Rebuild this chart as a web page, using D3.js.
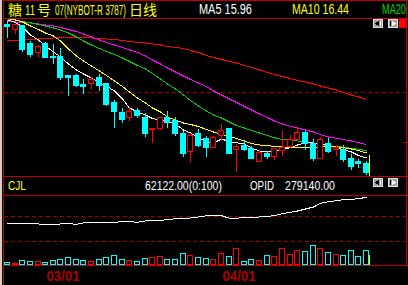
<!DOCTYPE html>
<html><head><meta charset="utf-8">
<script src="https://cdn.jsdelivr.net/npm/d3@7"></script>
<style>
html,body{margin:0;padding:0;background:#000;overflow:hidden}
svg{display:block}
</style></head><body>
<svg id="c" width="408" height="285"></svg>
<script>
// ---------- data ----------
const titleParts = ["糖", "11", "号", "07(NYBOT-R 3787)", "日线"];
const maLabels = ["MA5 15.96", "MA10 16.44", "MA20"];
const volLabels = ["CJL", "62122.00(0:100)", "OPID", "279140.00"];
const dateLabels = ["03/01", "04/01"];
const dateIndex = [7, 30];

const opens  = [17.233,17.175,17.22,17.035,16.953,17.035,16.915,16.91,16.72,16.72,16.63,16.637,16.705,16.635,16.45,16.353,16.295,16.37,16.303,16.177,16.187,16.295,16.27,16.143,15.963,16.14,16.087,16.003,16.12,16.193,15.977,16.025,15.987,15.86,15.943,15.913,15.97,16.013,16.08,16.153,16.037,15.893,16.043,15.977,15.977,15.887,15.863,15.843];
const highs  = [17.265,17.225,17.22,17.06,17.015,17.05,17.03,16.99,16.72,16.735,16.68,16.705,16.725,16.64,16.47,16.387,16.403,16.395,16.335,16.195,16.30,16.36,16.30,16.16,16.135,16.175,16.11,16.11,16.235,16.195,16.03,16.06,16.01,15.975,15.96,15.99,16.163,16.12,16.187,16.16,16.08,16.103,16.093,16.015,16.02,15.93,15.88,15.86];
const lows   = [17.097,17.135,16.96,16.91,16.905,16.90,16.835,16.68,16.52,16.61,16.54,16.595,16.57,16.42,16.205,16.253,16.27,16.30,16.11,16.053,16.185,16.20,16.12,15.913,15.863,16.01,15.91,16.00,16.07,15.94,15.763,15.97,15.89,15.86,15.887,15.88,15.92,15.997,16.08,15.98,15.87,15.89,15.95,15.92,15.863,15.78,15.803,15.73];
const closes = [17.213,17.225,16.985,16.935,17.013,16.903,16.90,16.705,16.703,16.62,16.605,16.68,16.62,16.435,16.355,16.285,16.36,16.32,16.14,16.193,16.297,16.25,16.137,15.937,16.117,16.02,16.003,16.103,16.17,15.943,16.01,15.98,15.893,15.953,15.913,15.987,16.003,16.077,16.147,16.04,15.887,16.077,15.96,16.005,15.877,15.813,15.837,15.753];

const ma5  = [17.27,17.245,17.20,17.12,17.07,17.01,16.95,16.90,16.83,16.77,16.73,16.69,16.64,16.61,16.56,16.48,16.39,16.35,16.32,16.285,16.27,16.255,16.23,16.17,16.14,16.09,16.053,16.04,16.08,16.053,16.043,16.03,15.99,15.96,15.953,15.96,15.973,15.995,16.02,16.045,16.04,16.037,16.015,15.99,15.973,15.95,15.915,15.89];
const ma10 = [17.285,17.27,17.25,17.21,17.175,17.14,17.11,17.06,16.98,16.91,16.86,16.81,16.76,16.715,16.66,16.605,16.55,16.49,16.44,16.39,16.35,16.30,16.27,16.24,16.225,16.205,16.175,16.15,16.125,16.11,16.085,16.06,16.035,16.02,16.015,16.005,16.00,15.997,15.997,16.00,15.997,16.00,16.002,16.00,15.992,15.98,15.965,15.94];
const ma20 = [17.28,17.27,17.255,17.242,17.225,17.21,17.19,17.17,17.14,17.10,17.06,17.02,16.985,16.955,16.925,16.89,16.855,16.815,16.78,16.735,16.68,16.63,16.58,16.52,16.465,16.41,16.36,16.32,16.29,16.25,16.215,16.19,16.165,16.14,16.115,16.092,16.075,16.065,16.06,16.053,16.04,16.025,16.012,16.005,15.998,15.987,15.978,15.963];
const ma30 = [17.255,17.25,17.245,17.24,17.23,17.22,17.21,17.195,17.175,17.155,17.13,17.10,17.07,17.045,17.02,16.995,16.97,16.945,16.91,16.87,16.83,16.79,16.75,16.71,16.675,16.64,16.605,16.56,16.52,16.48,16.445,16.405,16.37,16.33,16.295,16.26,16.23,16.205,16.19,16.17,16.15,16.125,16.10,16.087,16.075,16.06,16.043,16.025];
const ma60 = [17.06,17.065,17.07,17.075,17.08,17.085,17.09,17.093,17.095,17.095,17.095,17.09,17.085,17.08,17.075,17.065,17.055,17.045,17.04,17.03,17.02,17.005,16.995,16.985,16.965,16.945,16.915,16.895,16.875,16.855,16.84,16.815,16.795,16.77,16.745,16.725,16.705,16.685,16.665,16.65,16.63,16.61,16.59,16.57,16.545,16.52,16.50,16.475];

const volumes = [12250,7000,20400,16300,16300,12250,20400,24500,31400,24500,20400,16300,24500,31400,39600,24500,20400,16300,27300,31400,36700,24500,24500,47800,39600,31400,27300,23300,47800,36700,68200,16300,23300,20400,39600,36700,68200,44900,61200,57100,80400,68200,53100,44900,39600,61200,36700,62122];
const opid = [247100,247940,247940,247940,247100,246740,246740,247100,247460,246740,248300,249140,249140,249140,249140,249860,249860,249140,250700,251540,251540,252260,253460,253460,254300,255500,257060,257060,257060,253940,253940,255140,255140,255500,256340,257060,259460,261140,262700,265100,267500,271940,273860,275060,276260,276740,277460,279140];

const priceGrid = [16.55];
const volGrid = [100000, 200000];

// ---------- drawing ----------
const svg = d3.select("#c");
const FONT = "'Liberation Sans', Arial, sans-serif";
const CJK = "'Noto Sans CJK SC', sans-serif";
const FRAME = "#c00000", DASH = "#a00000";
const UP = "#ff0000", DOWN = "#00ffff";

svg.append("rect").attr("width",408).attr("height",285).attr("fill","#000");

const n = closes.length;
const x = d3.scaleBand().domain(d3.range(n)).range([4, 369.1]).paddingInner(0.215);
const y = d3.scaleLinear().domain([15.71, 17.29]).range([176, 18]);
const yv = d3.scaleLinear().domain([0, 100000]).range([265, 240.5]);
const yo = d3.scaleLinear().domain([240000, 280000]).range([229.9, 196.6]);
const L = i => Math.round(x(i));
const W = Math.round(x.bandwidth());
const CX = i => L(i) + 3.5;

// frame
const g = svg.append("g").attr("shape-rendering","crispEdges");
g.append("rect").attr("x",0).attr("y",0).attr("width",2).attr("height",285).attr("fill","#d4d0c8");
[[3,0.5,408,0.5],[3,18.5,408,18.5],[3,176.5,408,176.5],[3,195.5,408,195.5],[3,265.5,408,265.5],
 [3.5,0,3.5,285],[406.5,0,406.5,266]].forEach(d=>{
  g.append("line").attr("x1",d[0]).attr("y1",d[1]).attr("x2",d[2]).attr("y2",d[3]).attr("stroke",FRAME);
});
g.append("line").attr("x1",403).attr("x2",408).attr("y1",142.5).attr("y2",142.5).attr("stroke",FRAME);

// grid dashes
priceGrid.forEach(p=>{
  g.append("line").attr("x1",4).attr("x2",406).attr("y1",Math.round(y(p))+0.5).attr("y2",Math.round(y(p))+0.5)
   .attr("stroke",DASH).attr("stroke-dasharray","4,3");
});
volGrid.forEach(v=>{
  g.append("line").attr("x1",4).attr("x2",406).attr("y1",Math.round(yv(v))+0.5).attr("y2",Math.round(yv(v))+0.5)
   .attr("stroke",DASH).attr("stroke-dasharray","4,3");
});

// clip for main chart
svg.append("clipPath").attr("id","mainclip").append("rect").attr("x",4).attr("y",19).attr("width",402).attr("height",157);
const gm = svg.append("g").attr("clip-path","url(#mainclip)").attr("shape-rendering","crispEdges");

// MA lines
const maSeries = [[ma60,"#ff0000"],[ma30,"#ff00ff"],[ma20,"#00d000"],[ma10,"#ffff00"],[ma5,"#ffffff"]];
maSeries.forEach(([arr,col])=>{
  const line = d3.line().x((d,i)=>CX(i)).y(d=>y(d));
  gm.append("path").attr("d",line(arr)).attr("fill","none").attr("stroke",col).attr("stroke-width",1);
});

// candles
d3.range(n).forEach(i=>{
  const up = closes[i] >= opens[i];
  const col = up ? UP : DOWN;
  const top = Math.round(y(Math.max(opens[i],closes[i])));
  const bot = Math.round(y(Math.min(opens[i],closes[i])));
  const hy = Math.round(y(highs[i])), ly = Math.round(y(lows[i]));
  const cx = CX(i);
  if (up) {
    if (hy < top) gm.append("line").attr("x1",cx).attr("x2",cx).attr("y1",hy).attr("y2",top).attr("stroke",col);
    if (ly > bot) gm.append("line").attr("x1",cx).attr("x2",cx).attr("y1",bot).attr("y2",ly+1).attr("stroke",col);
    gm.append("rect").attr("x",L(i)+0.5).attr("y",top+0.5).attr("width",W-1).attr("height",Math.max(1,bot-top))
      .attr("fill","#000").attr("stroke",col);
  } else {
    gm.append("line").attr("x1",cx).attr("x2",cx).attr("y1",hy).attr("y2",ly+1).attr("stroke",col);
    gm.append("rect").attr("x",L(i)).attr("y",top).attr("width",W).attr("height",Math.max(2,bot-top+1)).attr("fill",col);
  }
});

// yellow cursor markers at the last bar
const lastX = L(n-1) + W + 0.5;
g.append("line").attr("x1",lastX).attr("x2",lastX).attr("y1",155).attr("y2",176).attr("stroke","#ffff00");

// volume bars (hollow)
const gv = svg.append("g").attr("shape-rendering","crispEdges");
volumes.forEach((v,i)=>{
  const up = closes[i] >= opens[i];
  const t = Math.round(yv(v));
  gv.append("rect").attr("x",L(i)+0.5).attr("y",t+0.5).attr("width",W-1).attr("height",265-t-1)
    .attr("fill","none").attr("stroke",up?UP:DOWN);
});
gv.append("line").attr("x1",lastX).attr("x2",lastX).attr("y1",255).attr("y2",265).attr("stroke","#ffff00");

// OPID line
gv.append("path").attr("d",d3.line().x((d,i)=>CX(i)).y(d=>yo(d))(opid))
  .attr("fill","none").attr("stroke","#ffffff");

// buttons
function btn(x0,y0,dir){
  const b = svg.append("g").attr("shape-rendering","crispEdges");
  b.append("rect").attr("x",x0+0.5).attr("y",y0+0.5).attr("width",9).attr("height",8).attr("fill","#a0a0a0").attr("stroke","#e0e0e0");
  if (dir<0) {
    b.append("path").attr("d",`M${x0+2},${y0+4.5} L${x0+6},${y0+1.5} L${x0+6},${y0+7.5} Z`).attr("fill","#000");
    b.append("rect").attr("x",x0+7).attr("y",y0+2).attr("width",1).attr("height",5).attr("fill","#fff");
  } else {
    b.append("rect").attr("x",x0+2).attr("y",y0+2).attr("width",1).attr("height",5).attr("fill","#000");
    b.append("path").attr("d",`M${x0+8},${y0+4.5} L${x0+4},${y0+1.5} L${x0+4},${y0+7.5} Z`).attr("fill","#fff");
  }
}
btn(373,19,-1); btn(388,19,1);
btn(373,178,-1); btn(388,178,1);
svg.append("rect").attr("x",399).attr("y",19).attr("width",7).attr("height",9).attr("fill","#ff0000");

// texts: condensed by a horizontal scale so each run fits its width
function fit(s, x0, yb, col, size, width, fam, weight, anchor){
  const gg = svg.append("g");
  const t = gg.append("text").attr("x",0).attr("y",0).attr("fill",col)
    .attr("font-size",size).attr("font-family",fam||FONT).text(s);
  if (weight) t.attr("font-weight",weight);
  const w = t.node().getComputedTextLength();
  const k = width ? width / w : 1;
  let left = x0;
  if (anchor === "middle") left = x0 - (width || w) / 2;
  gg.attr("transform",`translate(${left},${yb}) scale(${k},1)`);
  return gg;
}
const tpos = [[8,14,CJK,13.5],[25,10,FONT,14.5],[37,14,CJK,13.5],[55,71,FONT,14.5],[129,28,CJK,13.5]];
titleParts.forEach((s,k)=>{
  const [x0,wd,fam,fs] = tpos[k];
  fit(s, x0, 14.5, "#ffff00", fs, wd, fam);
});
fit(maLabels[0], 199, 14, "#ffffff", 14, 53);
fit(maLabels[1], 292, 14, "#ffff00", 14, 57);
fit(maLabels[2], 382, 14, "#00d000", 14, 24);

fit(volLabels[0], 8, 189.5, "#ffff00", 13, 18);
fit(volLabels[1], 145, 189.5, "#ffffff", 13, 77);
fit(volLabels[2], 250, 189.5, "#ffffff", 13, 24);
fit(volLabels[3], 285, 189.5, "#ffffff", 13, 50);

dateLabels.forEach((s,k)=>{
  fit(s, CX(dateIndex[k]) + 2.5, 281, "#b00000", 15, 33, FONT, "bold", "middle");
});
</script>
</body></html>
